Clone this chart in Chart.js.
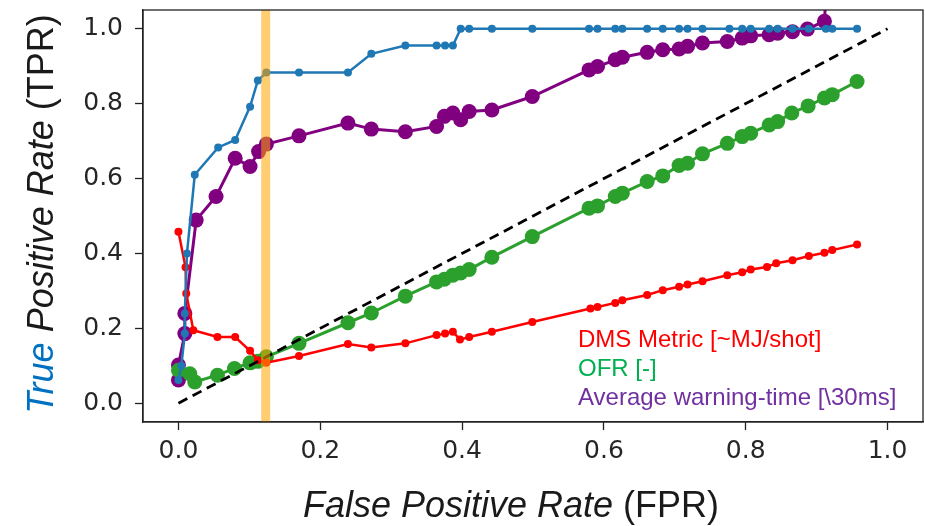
<!DOCTYPE html>
<html>
<head>
<meta charset="utf-8">
<script src="https://cdn.jsdelivr.net/npm/chart.js@4/dist/chart.umd.min.js"></script>
<style>
  html, body { margin:0; padding:0; background:#fff; }
  #wrap { position:relative; width:925px; height:526px; overflow:hidden; }
  canvas { position:absolute; left:0; top:0; }
  .lbl { position:absolute; font-family:"Liberation Sans", Arial, sans-serif; white-space:nowrap; color:#1a1a1a; }
  .leg { position:absolute; left:578px; font-family:"Liberation Sans", Arial, sans-serif; font-size:24px; line-height:29px; white-space:nowrap; }
</style>
</head>
<body>
<div id="wrap">
  <canvas id="c" width="925" height="526"></canvas>
  <div class="lbl" id="xlab" style="left:211px; width:600px; top:487px; font-size:36px; line-height:36px; text-align:center;"><i>False Positive Rate</i> (FPR)</div>
  <div class="lbl" id="ylab" style="left:-169px; width:420px; top:196px; height:36px; font-size:36px; line-height:36px; text-align:center; transform:rotate(-90deg); transform-origin:center center;"><i style="color:#0070c0">True</i> <i>Positive Rate</i> (TPR)</div>
  <div class="leg" style="top:324px; color:#ff0000;">DMS Metric [~MJ/shot]</div>
  <div class="leg" style="top:353px; color:#00b050;">OFR [-]</div>
  <div class="leg" style="top:382px; color:#7030a0;">Average warning-time [\30ms]</div>
</div>
<script>
// ---- data ----
const tickValues = [0.0, 0.2, 0.4, 0.6, 0.8, 1.0];
const thresholdFPR = 0.123;

const tprX = [0, 0.004, 0.009, 0.009, 0.012, 0.023, 0.056, 0.08, 0.101, 0.112, 0.124, 0.17, 0.239, 0.272, 0.32, 0.364, 0.376, 0.387, 0.398, 0.41, 0.442, 0.499, 0.579, 0.591, 0.616, 0.626, 0.661, 0.683, 0.706, 0.718, 0.739, 0.777, 0.795, 0.807, 0.833, 0.845, 0.866, 0.889, 0.913, 0.922, 0.957];
const tprY = [0.062, 0.10, 0.186, 0.24, 0.40, 0.61, 0.683, 0.703, 0.792, 0.862, 0.883, 0.883, 0.883, 0.933, 0.955, 0.955, 0.955, 0.955, 1.0, 1.0, 1.0, 1.0, 1.0, 1.0, 1.0, 1.0, 1.0, 1.0, 1.0, 1.0, 1.0, 1.0, 1.0, 1.0, 1.0, 1.0, 1.0, 1.0, 1.0, 1.0, 1.0];

const dmsX = [0, 0.01, 0.011, 0.021, 0.055, 0.08, 0.101, 0.112, 0.124, 0.17, 0.239, 0.272, 0.32, 0.364, 0.376, 0.387, 0.397, 0.41, 0.442, 0.499, 0.581, 0.591, 0.616, 0.626, 0.661, 0.683, 0.706, 0.718, 0.739, 0.774, 0.795, 0.807, 0.83, 0.843, 0.866, 0.889, 0.911, 0.922, 0.957];
const dmsY = [0.458, 0.363, 0.293, 0.195, 0.177, 0.177, 0.14, 0.115, 0.108, 0.126, 0.158, 0.149, 0.16, 0.182, 0.186, 0.191, 0.17, 0.177, 0.191, 0.217, 0.253, 0.257, 0.268, 0.275, 0.289, 0.302, 0.311, 0.317, 0.326, 0.342, 0.35, 0.357, 0.364, 0.374, 0.382, 0.393, 0.402, 0.409, 0.424];

const ofrX = [0, 0.016, 0.023, 0.055, 0.079, 0.101, 0.112, 0.124, 0.17, 0.239, 0.272, 0.32, 0.364, 0.375, 0.387, 0.398, 0.41, 0.442, 0.499, 0.579, 0.591, 0.616, 0.626, 0.661, 0.683, 0.706, 0.718, 0.739, 0.774, 0.795, 0.807, 0.833, 0.845, 0.865, 0.888, 0.911, 0.922, 0.957];
const ofrY = [0.088, 0.079, 0.057, 0.075, 0.093, 0.108, 0.112, 0.124, 0.16, 0.215, 0.241, 0.286, 0.324, 0.331, 0.342, 0.348, 0.357, 0.39, 0.445, 0.521, 0.527, 0.552, 0.561, 0.592, 0.607, 0.635, 0.641, 0.666, 0.694, 0.712, 0.721, 0.743, 0.752, 0.775, 0.794, 0.815, 0.824, 0.859];

const awtX = [0, 0, 0.009, 0.009, 0.025, 0.053, 0.08, 0.101, 0.113, 0.124, 0.17, 0.239, 0.272, 0.32, 0.364, 0.375, 0.387, 0.398, 0.41, 0.442, 0.499, 0.579, 0.591, 0.616, 0.626, 0.661, 0.683, 0.706, 0.718, 0.739, 0.774, 0.795, 0.807, 0.833, 0.845, 0.866, 0.887, 0.911, 0.915];
const awtY = [0.062, 0.102, 0.186, 0.24, 0.489, 0.552, 0.654, 0.632, 0.672, 0.692, 0.714, 0.748, 0.732, 0.725, 0.739, 0.766, 0.775, 0.757, 0.779, 0.783, 0.819, 0.89, 0.899, 0.917, 0.924, 0.937, 0.944, 0.946, 0.953, 0.962, 0.966, 0.975, 0.981, 0.984, 0.988, 0.992, 0.999, 1.02, 1.15];

const diagX = [0, 1];
const diagY = [0, 1];

// ---- build ----
const pts = (xs, ys) => xs.map((x, i) => ({ x: x, y: ys[i] }));

const framePlugin = {
  id: 'frame',
  afterDraw(chart) {
    const a = chart.chartArea, ctx = chart.ctx;
    ctx.save();
    ctx.strokeStyle = '#222';
    ctx.lineWidth = 1.3;
    ctx.strokeRect(a.left, a.top, a.right - a.left, a.bottom - a.top);
    ctx.restore();
  }
};

const ctx = document.getElementById('c').getContext('2d');
new Chart(ctx, {
  type: 'line',
  data: {
    datasets: [
      { label: 'threshold', data: pts([thresholdFPR, thresholdFPR], [-0.05, 1.05]),
        borderColor: 'rgba(255,165,0,0.55)', borderWidth: 9, pointRadius: 0, order: 0, borderCapStyle: 'butt' },
      { label: 'chance', data: pts(diagX, diagY), borderColor: '#000', borderWidth: 2.8,
        borderDash: [10, 6], pointRadius: 0, order: 1 },
      { label: 'TPR', data: pts(tprX, tprY), borderColor: '#1f77b4', backgroundColor: '#1f77b4',
        borderWidth: 2.5, pointRadius: 4, pointBorderWidth: 0, order: 2 },
      { label: 'DMS Metric [~MJ/shot]', data: pts(dmsX, dmsY), borderColor: '#ff0000', backgroundColor: '#ff0000',
        borderWidth: 2.5, pointRadius: 4, pointBorderWidth: 0, order: 3 },
      { label: 'OFR [-]', data: pts(ofrX, ofrY), borderColor: '#2ca02c', backgroundColor: '#2ca02c',
        borderWidth: 3, pointRadius: 7.5, pointBorderWidth: 0, order: 4 },
      { label: 'Average warning-time [\\30ms]', data: pts(awtX, awtY), borderColor: '#800080', backgroundColor: '#800080',
        borderWidth: 3, pointRadius: 7.5, pointBorderWidth: 0, order: 5, clip: 0 }
    ]
  },
  options: {
    responsive: false,
    animation: false,
    devicePixelRatio: 1,
    layout: { autoPadding: false, padding: { top: 10, right: 2, left: 0, bottom: 0 } },
    plugins: { legend: { display: false }, tooltip: { enabled: false } },
    elements: { line: { tension: 0 } },
    scales: {
      x: {
        type: 'linear', min: -0.05, max: 1.05,
        afterBuildTicks: s => { s.ticks = tickValues.map(v => ({ value: v })); },
        afterFit: s => { s.height = 104; s.paddingLeft = 0; s.paddingRight = 0; },
        grid: { drawOnChartArea: false, drawTicks: true, tickLength: 8, tickColor: '#222', tickWidth: 1.3 },
        border: { display: true, color: '#222', width: 1.3 },
        ticks: { color: '#262626', padding: 6, maxRotation: 0, autoSkip: false,
          font: { family: 'DejaVu Sans', size: 25 }, callback: v => Number(v).toFixed(1) }
      },
      y: {
        type: 'linear', min: -0.05, max: 1.05,
        afterBuildTicks: s => { s.ticks = tickValues.map(v => ({ value: v })); },
        afterFit: s => { s.width = 143; s.paddingTop = 0; s.paddingBottom = 0; },
        grid: { drawOnChartArea: false, drawTicks: true, tickLength: 8, tickColor: '#222', tickWidth: 1.3 },
        border: { display: true, color: '#222', width: 1.3 },
        ticks: { color: '#262626', padding: 12, autoSkip: false,
          font: { family: 'DejaVu Sans', size: 25 }, callback: v => Number(v).toFixed(1) }
      }
    }
  },
  plugins: [framePlugin]
});
</script>
</body>
</html>
